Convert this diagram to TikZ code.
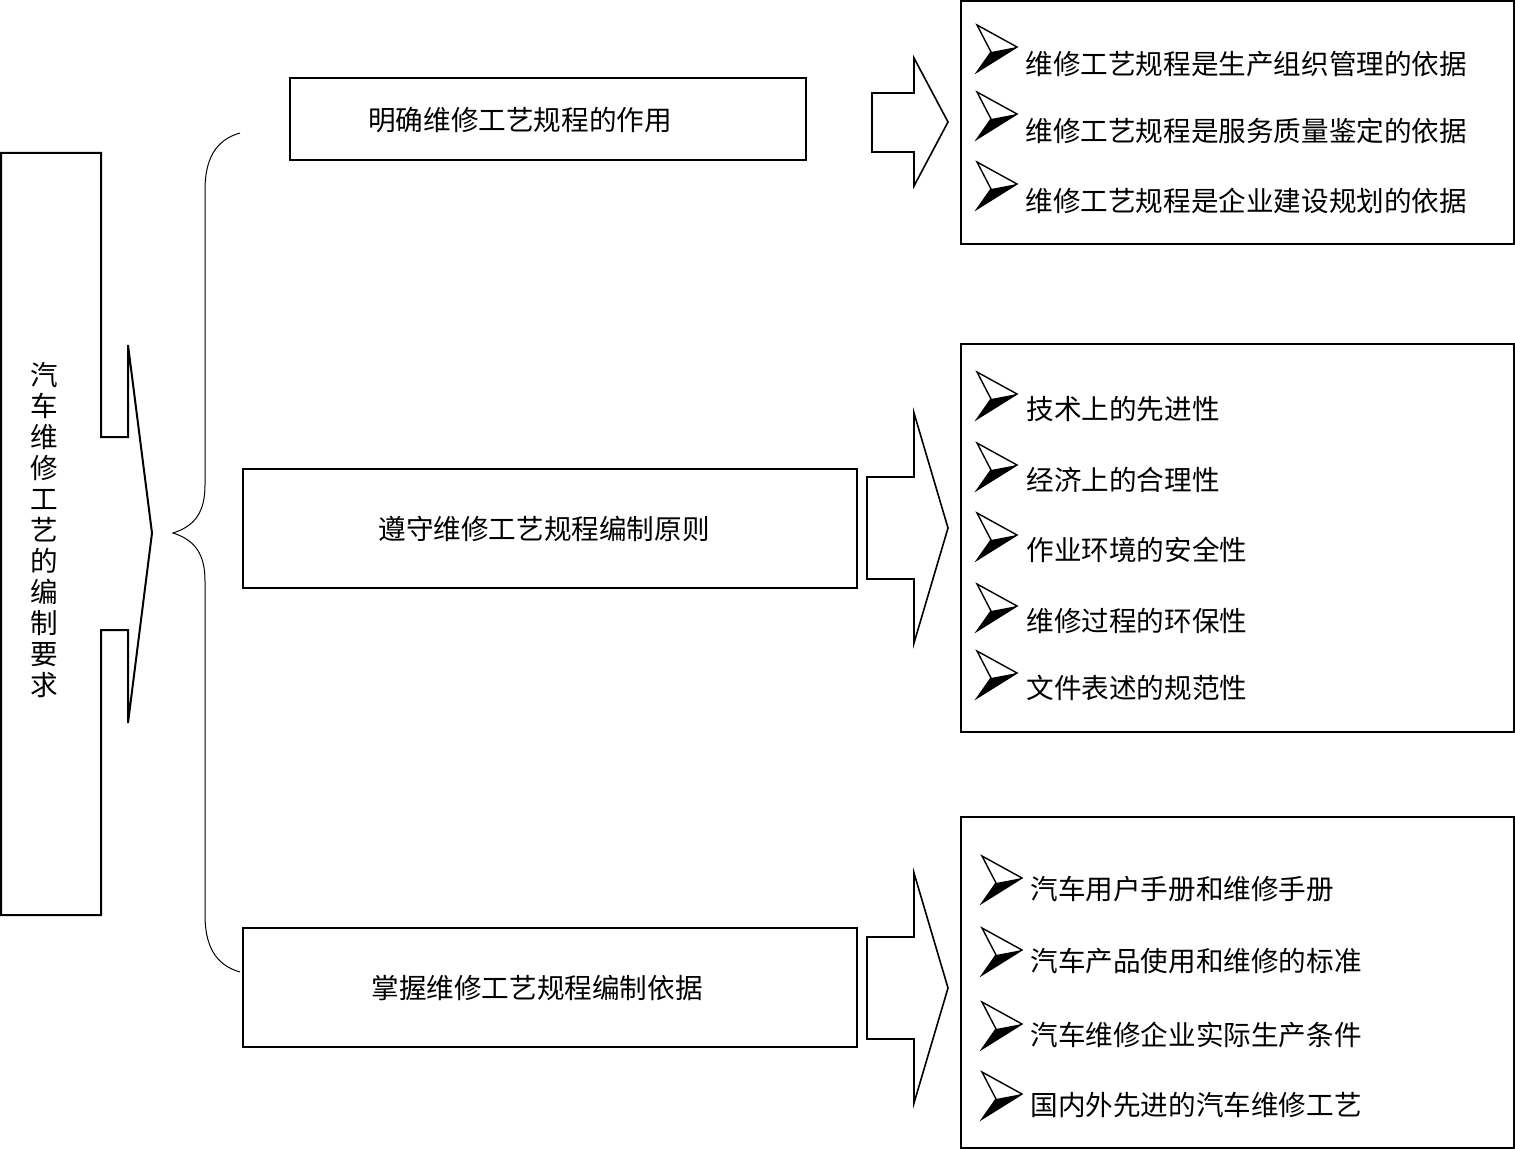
\documentclass[tikz,border=0pt]{standalone}
\usepackage{fontspec}
\setmainfont{Noto Sans CJK SC}
\begin{document}
\begin{tikzpicture}[x=0.5pt,y=-0.5pt,
  outl/.style={line width=1pt,line join=miter},
  blk/.style={line width=0.8pt,line join=miter},
  lbl/.style={font=\fontsize{13.8}{16}\selectfont,inner sep=0pt},
  item/.style={lbl,anchor=west},
  bul/.pic={
    \fill[black] (14,27) -- (40,22) -- (0,47) -- cycle;
    \draw[line width=0.7pt,line join=miter] (0,0) -- (40,22) -- (0,47) -- (14,27) -- cycle;
  }]
\useasboundingbox (0,0) rectangle (1515,1150);
% left box with arrow
\draw[outl] (1,153) -- (101,153) -- (101,437) -- (128,437) -- (128,345) -- (152,533)
  -- (128,723) -- (128,630) -- (101,630) -- (101,915) -- (1,915) -- cycle;
\node[lbl,align=center,font=\fontsize{13.8}{15.5}\selectfont] (main) at (44,530)
  {汽\\车\\维\\修\\工\\艺\\的\\编\\制\\要\\求};
% brace
\draw[line width=0.5pt] (240,133) .. controls (215,140) and (205,160) .. (205,190)
  -- (205,485) .. controls (205,512) and (195,526) .. (173,533)
  .. controls (195,540) and (205,554) .. (205,581)
  -- (205,915) .. controls (205,945) and (215,965) .. (240,972);
% middle boxes
\draw[outl] (290,78) rectangle (806,160);
\node[lbl] (t1) at (520,120) {明确维修工艺规程的作用};
\draw[outl] (243,469) rectangle (857,588);
\node[lbl] (t2) at (544,529) {遵守维修工艺规程编制原则};
\draw[outl] (243,928) rectangle (857,1047);
\node[lbl] (t3) at (537,988) {掌握维修工艺规程编制依据};
% block arrows
\draw[blk] (872,93) -- (914,93) -- (914,58) -- (948,122) -- (914,186) -- (914,152) -- (872,152) -- cycle;
\draw[blk] (867,477) -- (914,477) -- (914,413) -- (948,528) -- (914,643) -- (914,579) -- (867,579) -- cycle;
\draw[blk] (867,937) -- (914,937) -- (914,873) -- (948,988) -- (914,1103) -- (914,1039) -- (867,1039) -- cycle;
% right boxes
\draw[outl] (961,1) rectangle (1514,244);
\draw[outl] (961,344) rectangle (1514,732);
\draw[outl] (961,817) rectangle (1514,1148);
% items box 1
\foreach \y/\t [count=\i] in {64/维修工艺规程是生产组织管理的依据,131/维修工艺规程是服务质量鉴定的依据,201/维修工艺规程是企业建设规划的依据}{
  \pic at (977,\y-39) {bul};
  \node[item] (a\i) at (1025,\y) {\t};
}
% items box 2
\foreach \y/\t [count=\i] in {409/技术上的先进性,480/经济上的合理性,550/作业环境的安全性,621/维修过程的环保性,688/文件表述的规范性}{
  \pic at (977,\y-37) {bul};
  \node[item] (b\i) at (1026,\y) {\t};
}
% items box 3
\foreach \y/\t [count=\i] in {889/汽车用户手册和维修手册,961/汽车产品使用和维修的标准,1035/汽车维修企业实际生产条件,1105/国内外先进的汽车维修工艺}{
  \pic at (982,\y-33) {bul};
  \node[item] (c\i) at (1030,\y) {\t};
}
\end{tikzpicture}
\end{document}
